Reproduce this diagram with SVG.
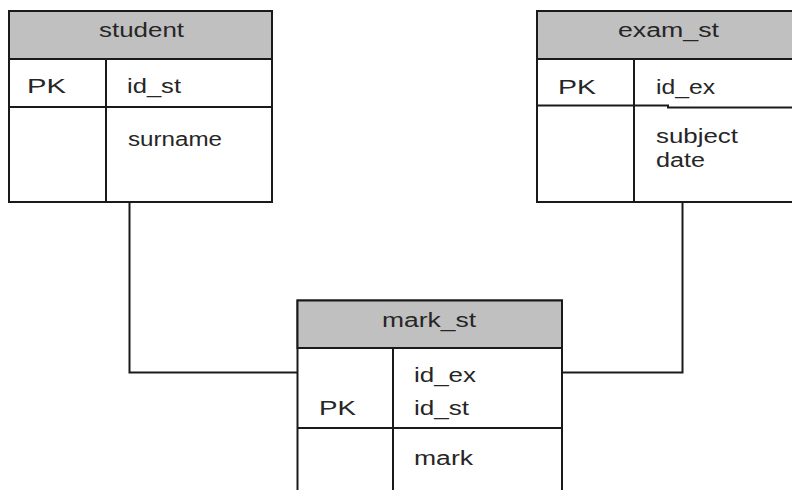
<svg xmlns="http://www.w3.org/2000/svg" width="792" height="490" viewBox="0 0 792 490">
<style>
.box{fill:#ffffff;stroke:#1a1a1a;stroke-width:2}
.hdr{fill:#c0c0c0;stroke:#1a1a1a;stroke-width:2}
.ln{fill:none;stroke:#1a1a1a;stroke-width:2}
text{font-family:"Liberation Sans",Arial,sans-serif;font-size:20px;fill:#262626}
</style>
<rect width="792" height="490" fill="#ffffff"/>
<g id="connectors">
<path class="ln" d="M129.5,202 V372.5 H298"/>
<path class="ln" d="M682.5,202 V372.5 H562"/>
</g>
<g id="student">
<rect class="box" x="9" y="11" width="263" height="191"/>
<rect class="hdr" x="9" y="11" width="263" height="48"/>
<path class="ln" d="M9,107 H272 M106,59 V202"/>
<text x="99" y="37" textLength="85" lengthAdjust="spacingAndGlyphs">student</text>
<text x="27" y="93" textLength="39" lengthAdjust="spacingAndGlyphs">PK</text>
<text x="127" y="93" textLength="54" lengthAdjust="spacingAndGlyphs">id_st</text>
<text x="128" y="146" textLength="94" lengthAdjust="spacingAndGlyphs">surname</text>
</g>
<g id="exam_st">
<rect class="box" x="537" y="11" width="270" height="191"/>
<rect class="hdr" x="537" y="11" width="270" height="48"/>
<path class="ln" d="M537,105.5 H668 V107.5 H800 M634,59 V202"/>
<text x="618" y="37" textLength="101" lengthAdjust="spacingAndGlyphs">exam_st</text>
<text x="558" y="94" textLength="38" lengthAdjust="spacingAndGlyphs">PK</text>
<text x="656" y="94" textLength="59" lengthAdjust="spacingAndGlyphs">id_ex</text>
<text x="656" y="143" textLength="82" lengthAdjust="spacingAndGlyphs">subject</text>
<text x="656" y="167" textLength="49" lengthAdjust="spacingAndGlyphs">date</text>
</g>
<g id="mark_st">
<rect class="box" x="297.5" y="300.5" width="264.5" height="200"/>
<rect class="hdr" x="297.5" y="300.5" width="264.5" height="47.5"/>
<path class="ln" d="M297.5,428 H562 M393,348 V500"/>
<text x="382" y="327" textLength="94" lengthAdjust="spacingAndGlyphs">mark_st</text>
<text x="319" y="415" textLength="37" lengthAdjust="spacingAndGlyphs">PK</text>
<text x="414" y="382" textLength="62" lengthAdjust="spacingAndGlyphs">id_ex</text>
<text x="414" y="415" textLength="55" lengthAdjust="spacingAndGlyphs">id_st</text>
<text x="414" y="465" textLength="59" lengthAdjust="spacingAndGlyphs">mark</text>
</g>
</svg>
